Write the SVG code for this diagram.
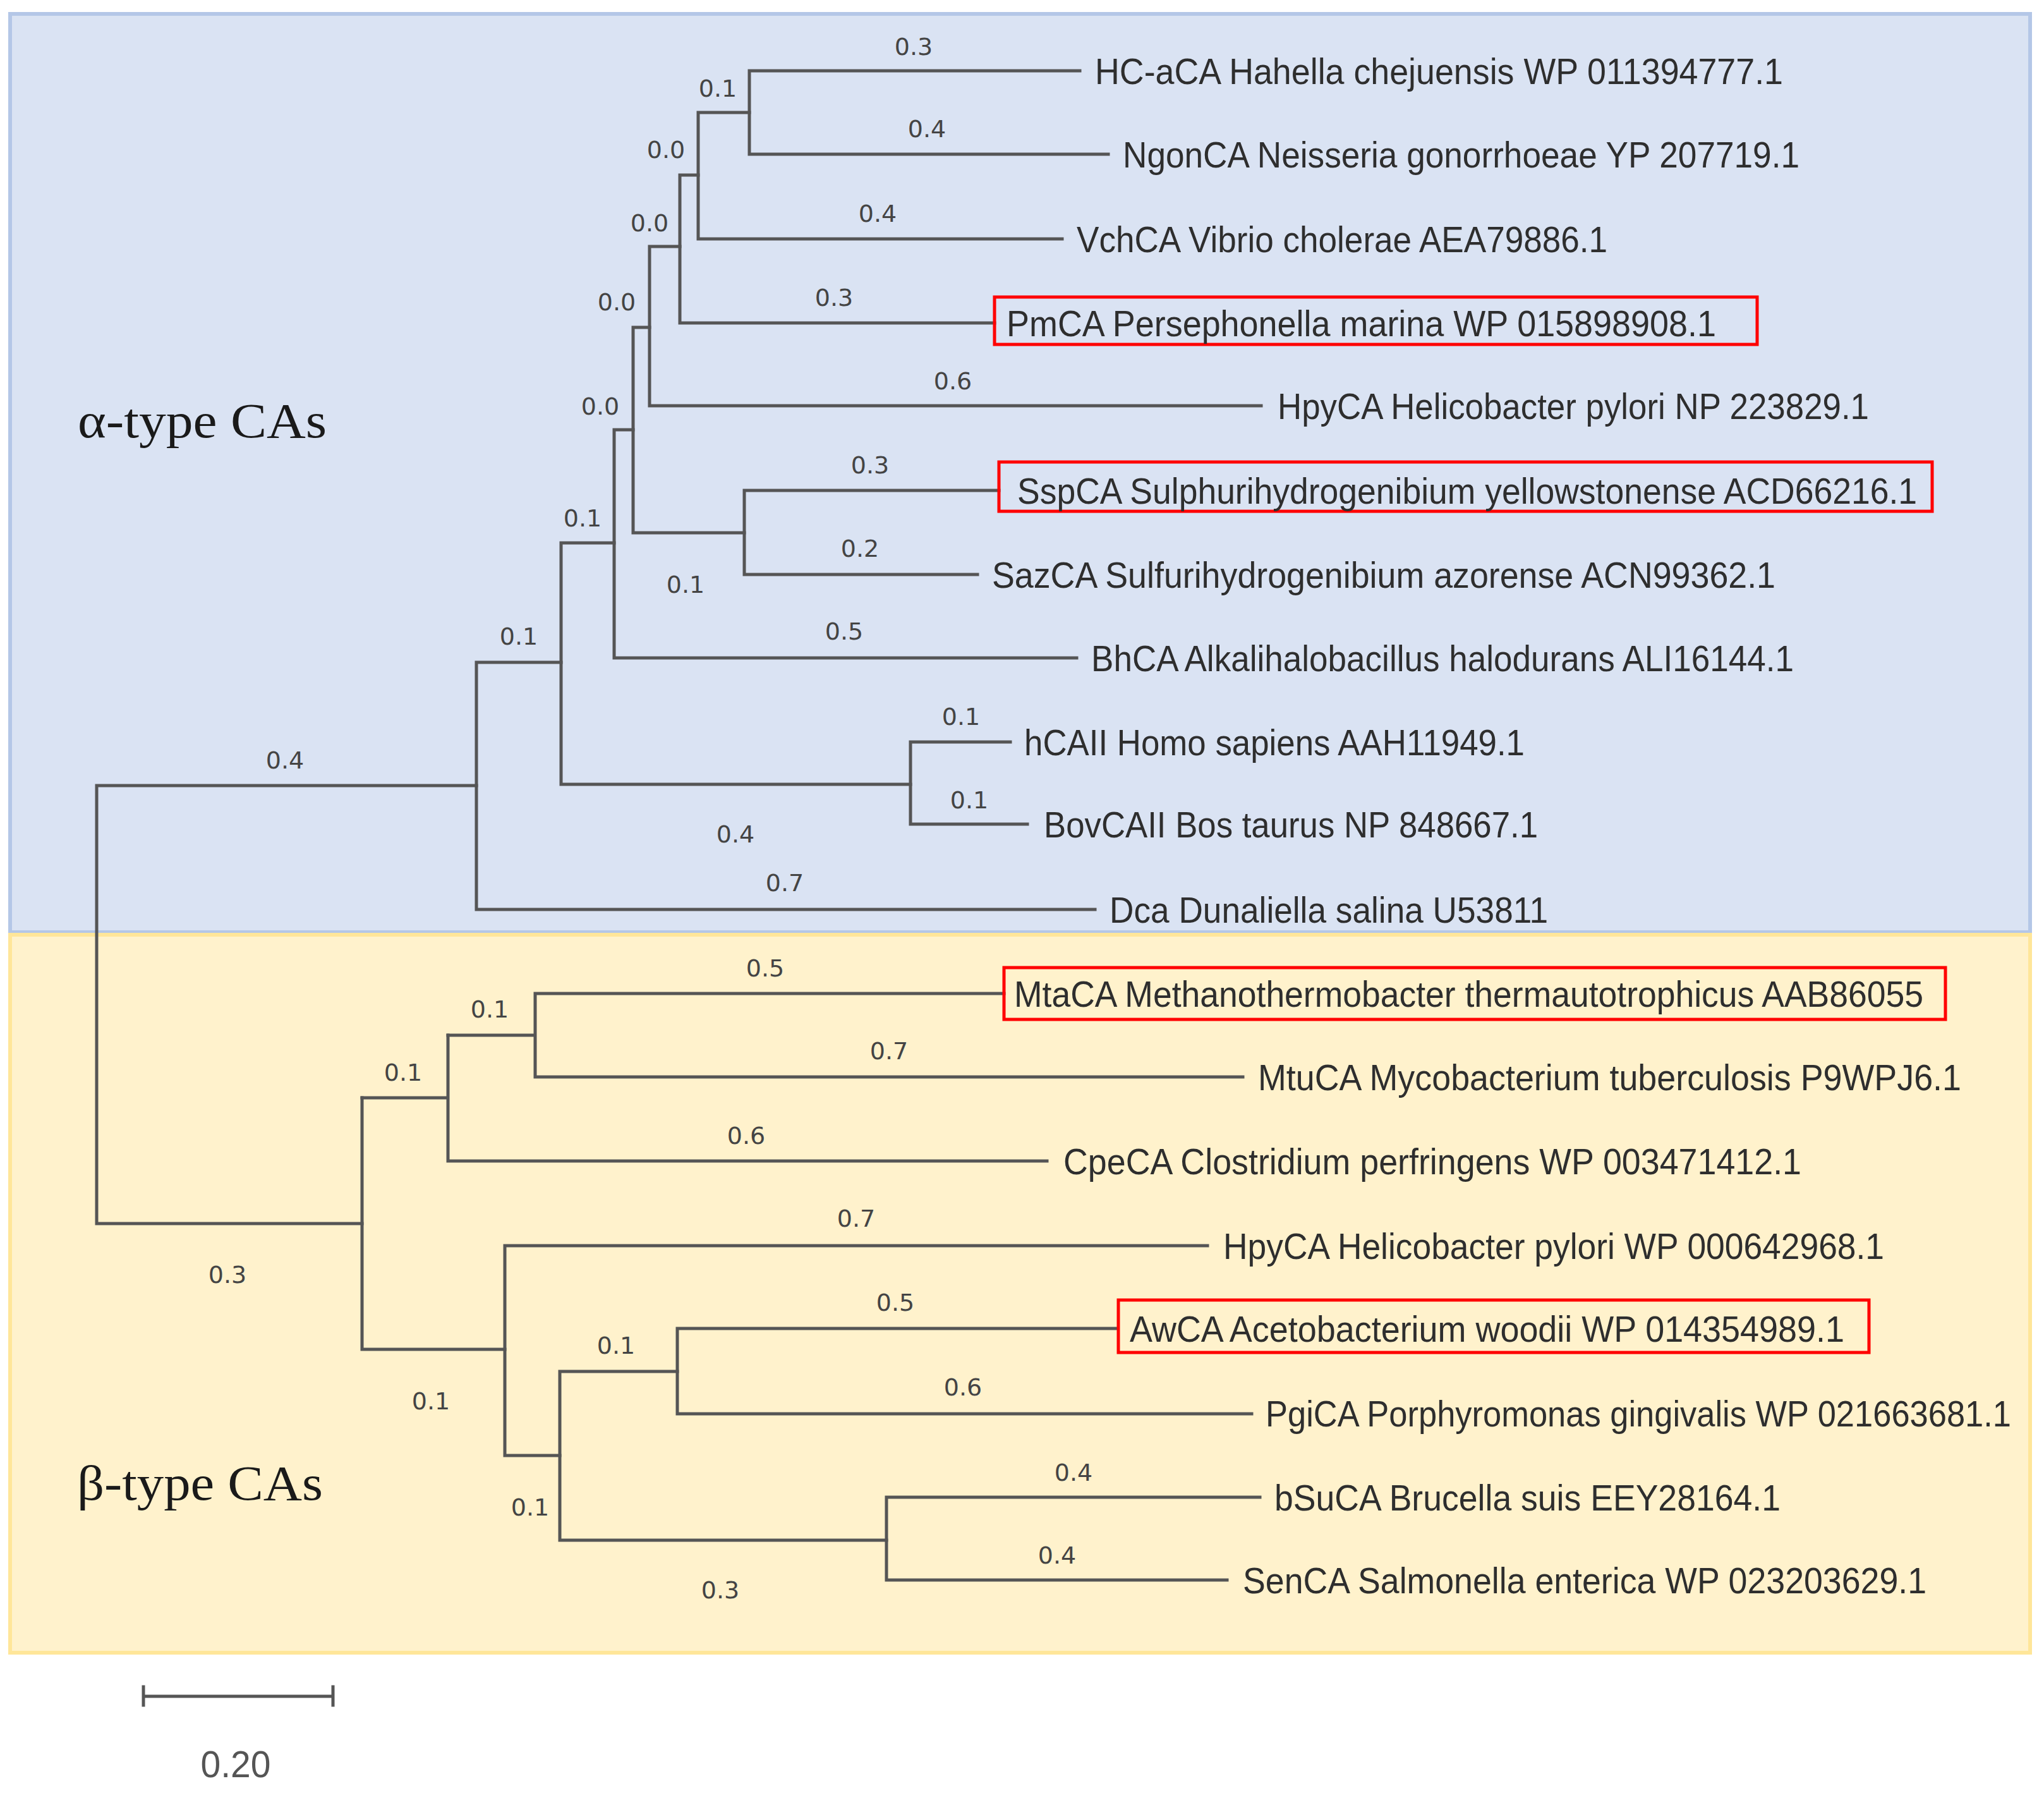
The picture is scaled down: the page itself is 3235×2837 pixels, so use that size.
<svg xmlns="http://www.w3.org/2000/svg" width="3235" height="2837" viewBox="0 0 3235 2837">
<style>
.leaf{font-family:"Liberation Sans",Arial,sans-serif;font-size:57px;fill:#2e2e2e}
.bl{font-family:"DejaVu Sans",Verdana,sans-serif;font-size:38px;fill:#444;text-anchor:middle}
.grp{font-family:"Liberation Serif","Times New Roman",serif;font-size:78px;fill:#1a1a1a}
.tree{fill:none;stroke:#555;stroke-width:5;stroke-linecap:square}
.hl{fill:none;stroke:#ff0000;stroke-width:5}
</style>
<rect width="3235" height="2837" fill="#ffffff"/>
<g id="panels">
<rect id="alpha-panel" x="16" y="22" width="3197" height="1453" fill="#dae3f3" stroke="#b4c7e7" stroke-width="6"/>
<rect id="beta-panel" x="16" y="1479" width="3197" height="1136" fill="#fff2cc" stroke="#ffe699" stroke-width="6"/>
</g>
<text class="grp" x="123" y="692" textLength="394" lengthAdjust="spacingAndGlyphs">α-type CAs</text>
<text class="grp" x="122" y="2373" textLength="389" lengthAdjust="spacingAndGlyphs">β-type CAs</text>
<g id="connectors" class="tree">
<path d="M1186,112 H1709 M1186,244 H1754 M1186,112 V244"/>
<path d="M1105,178 H1186 M1105,178 V378 M1105,378 H1681"/>
<path d="M1076,277 H1105 M1076,277 V511 M1076,511 H1574"/>
<path d="M1028,390 H1076 M1028,390 V642 M1028,642 H1996"/>
<path d="M1002,518 H1028 M1002,518 V843 M1002,843 H1178"/>
<path d="M1178,776 V909 M1178,776 H1581 M1178,909 H1547"/>
<path d="M972,680 H1002 M972,680 V1041 M972,1041 H1704"/>
<path d="M888,859 H972 M888,859 V1241 M888,1241 H1441"/>
<path d="M1441,1174 V1304 M1441,1174 H1599 M1441,1304 H1626"/>
<path d="M754,1048 H888 M754,1048 V1439 M754,1439 H1733"/>
<path d="M153,1243 H754 M153,1243 V1936 M153,1936 H573"/>
<path d="M573,1737 V2135 M573,2135 H799"/>
<path d="M573,1737 H709 M709,1638 V1837 M709,1837 H1657"/>
<path d="M709,1638 H847 M847,1572 V1704 M847,1572 H1589 M847,1704 H1967"/>
<path d="M799,1971 V2303 M799,1971 H1911 M799,2303 H886"/>
<path d="M886,2170 V2437 M886,2170 H1072 M886,2437 H1403"/>
<path d="M1072,2102 V2237 M1072,2102 H1767 M1072,2237 H1981"/>
<path d="M1403,2369 V2500 M1403,2369 H1994 M1403,2500 H1942"/>
</g>
<g id="branch-labels">
<text class="bl" x="1446" y="87">0.3</text>
<text class="bl" x="1136" y="153">0.1</text>
<text class="bl" x="1467" y="217">0.4</text>
<text class="bl" x="1054" y="250">0.0</text>
<text class="bl" x="1389" y="351">0.4</text>
<text class="bl" x="1028" y="366">0.0</text>
<text class="bl" x="1320" y="484">0.3</text>
<text class="bl" x="976" y="491">0.0</text>
<text class="bl" x="1508" y="616">0.6</text>
<text class="bl" x="950" y="656">0.0</text>
<text class="bl" x="1377" y="749">0.3</text>
<text class="bl" x="922" y="833">0.1</text>
<text class="bl" x="1361" y="881">0.2</text>
<text class="bl" x="1085" y="938">0.1</text>
<text class="bl" x="1336" y="1012">0.5</text>
<text class="bl" x="821" y="1020">0.1</text>
<text class="bl" x="1521" y="1147">0.1</text>
<text class="bl" x="451" y="1216">0.4</text>
<text class="bl" x="1534" y="1279">0.1</text>
<text class="bl" x="1164" y="1333">0.4</text>
<text class="bl" x="1242" y="1410">0.7</text>
<text class="bl" x="1211" y="1545">0.5</text>
<text class="bl" x="775" y="1610">0.1</text>
<text class="bl" x="1407" y="1676">0.7</text>
<text class="bl" x="638" y="1710">0.1</text>
<text class="bl" x="1181" y="1810">0.6</text>
<text class="bl" x="1355" y="1941">0.7</text>
<text class="bl" x="360" y="2030">0.3</text>
<text class="bl" x="1417" y="2074">0.5</text>
<text class="bl" x="975" y="2142">0.1</text>
<text class="bl" x="1524" y="2208">0.6</text>
<text class="bl" x="682" y="2230">0.1</text>
<text class="bl" x="1699" y="2343">0.4</text>
<text class="bl" x="839" y="2398">0.1</text>
<text class="bl" x="1673" y="2474">0.4</text>
<text class="bl" x="1140" y="2529">0.3</text>
</g>
<g id="leaf-HC"><text class="leaf" x="1733" y="133" textLength="1089" lengthAdjust="spacingAndGlyphs">HC-aCA Hahella chejuensis WP 011394777.1</text></g>
<g id="leaf-Ngon"><text class="leaf" x="1777" y="265" textLength="1071" lengthAdjust="spacingAndGlyphs">NgonCA Neisseria gonorrhoeae YP 207719.1</text></g>
<g id="leaf-Vch"><text class="leaf" x="1704" y="399" textLength="840" lengthAdjust="spacingAndGlyphs">VchCA Vibrio cholerae AEA79886.1</text></g>
<g id="leaf-Pm"><rect class="hl" x="1574" y="470" width="1207" height="75"/><text class="leaf" x="1593" y="532" textLength="1123" lengthAdjust="spacingAndGlyphs">PmCA Persephonella marina WP 015898908.1</text></g>
<g id="leaf-HpyNP"><text class="leaf" x="2022" y="663" textLength="936" lengthAdjust="spacingAndGlyphs">HpyCA Helicobacter pylori NP 223829.1</text></g>
<g id="leaf-Ssp"><rect class="hl" x="1581" y="731" width="1477" height="78"/><text class="leaf" x="1610" y="797" textLength="1424" lengthAdjust="spacingAndGlyphs">SspCA Sulphurihydrogenibium yellowstonense ACD66216.1</text></g>
<g id="leaf-Saz"><text class="leaf" x="1570" y="930" textLength="1240" lengthAdjust="spacingAndGlyphs">SazCA Sulfurihydrogenibium azorense ACN99362.1</text></g>
<g id="leaf-Bh"><text class="leaf" x="1727" y="1062" textLength="1112" lengthAdjust="spacingAndGlyphs">BhCA Alkalihalobacillus halodurans ALI16144.1</text></g>
<g id="leaf-hCAII"><text class="leaf" x="1621" y="1195" textLength="792" lengthAdjust="spacingAndGlyphs">hCAII Homo sapiens AAH11949.1</text></g>
<g id="leaf-Bov"><text class="leaf" x="1652" y="1325" textLength="782" lengthAdjust="spacingAndGlyphs">BovCAII Bos taurus NP 848667.1</text></g>
<g id="leaf-Dca"><text class="leaf" x="1756" y="1460" textLength="694" lengthAdjust="spacingAndGlyphs">Dca Dunaliella salina U53811</text></g>
<g id="leaf-Mta"><rect class="hl" x="1589" y="1531" width="1490" height="82"/><text class="leaf" x="1605" y="1593" textLength="1439" lengthAdjust="spacingAndGlyphs">MtaCA Methanothermobacter thermautotrophicus AAB86055</text></g>
<g id="leaf-Mtu"><text class="leaf" x="1991" y="1725" textLength="1113" lengthAdjust="spacingAndGlyphs">MtuCA Mycobacterium tuberculosis P9WPJ6.1</text></g>
<g id="leaf-Cpe"><text class="leaf" x="1683" y="1858" textLength="1168" lengthAdjust="spacingAndGlyphs">CpeCA Clostridium perfringens WP 003471412.1</text></g>
<g id="leaf-HpyWP"><text class="leaf" x="1936" y="1992" textLength="1046" lengthAdjust="spacingAndGlyphs">HpyCA Helicobacter pylori WP 000642968.1</text></g>
<g id="leaf-Aw"><rect class="hl" x="1770" y="2057" width="1188" height="83"/><text class="leaf" x="1788" y="2123" textLength="1131" lengthAdjust="spacingAndGlyphs">AwCA Acetobacterium woodii WP 014354989.1</text></g>
<g id="leaf-Pgi"><text class="leaf" x="2003" y="2257" font-size="53" textLength="1180" lengthAdjust="spacingAndGlyphs">PgiCA Porphyromonas gingivalis WP 021663681.1</text></g>
<g id="leaf-bSu"><text class="leaf" x="2017" y="2390" textLength="801" lengthAdjust="spacingAndGlyphs">bSuCA Brucella suis EEY28164.1</text></g>
<g id="leaf-Sen"><text class="leaf" x="1967" y="2521" textLength="1082" lengthAdjust="spacingAndGlyphs">SenCA Salmonella enterica WP 023203629.1</text></g>
<g id="scale-bar">
<path class="tree" d="M227,2684 H527 M227,2669 V2698 M527,2669 V2698"/>
<text x="373" y="2812" text-anchor="middle" font-family="Liberation Sans, Arial, sans-serif" font-size="60" fill="#555" textLength="111" lengthAdjust="spacingAndGlyphs">0.20</text>
</g>
</svg>
